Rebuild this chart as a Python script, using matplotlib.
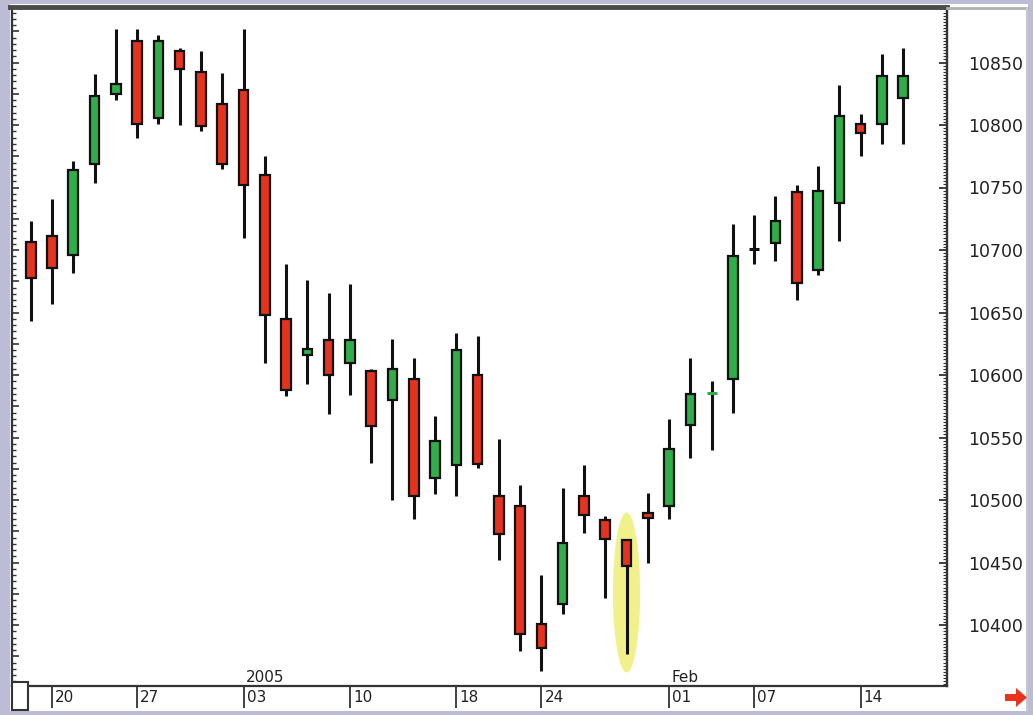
import matplotlib
matplotlib.use("Agg")
import matplotlib.pyplot as plt
from matplotlib.patches import Rectangle, Ellipse, Polygon
from matplotlib.ticker import MultipleLocator

# daily candles, 17 Dec 2004 .. 16 Feb 2005 (trading days only)
opens = [10706, 10711, 10696, 10769, 10825, 10867, 10806, 10859, 10842, 10817,
         10828, 10760, 10645, 10616, 10628, 10610, 10603, 10580, 10597, 10518,
         10528, 10600, 10503, 10495, 10401, 10417, 10503, 10484, 10468, 10490,
         10495, 10560, 10585.5, 10597, 10701, 10706, 10746, 10684, 10738, 10801,
         10801, 10822]
highs = [10723, 10741, 10771, 10841, 10877, 10877, 10872, 10862, 10859, 10842,
         10877, 10775, 10689, 10676, 10666, 10673, 10605, 10629, 10614, 10567,
         10634, 10631, 10549, 10512, 10440, 10510, 10528, 10487, 10469, 10506,
         10565, 10614, 10595, 10721, 10728, 10743, 10752, 10767, 10832, 10809,
         10857, 10862]
lows = [10643, 10657, 10682, 10754, 10820, 10790, 10801, 10800, 10795, 10765,
        10710, 10610, 10583, 10593, 10569, 10584, 10530, 10500, 10485, 10505,
        10503, 10526, 10452, 10379, 10363, 10409, 10474, 10422, 10377, 10450,
        10485, 10534, 10540, 10570, 10689, 10691, 10660, 10680, 10707, 10775,
        10785, 10785]
closes = [10678, 10686, 10764, 10823, 10833, 10801, 10867, 10845, 10799, 10769,
          10752, 10648, 10588, 10621, 10600, 10628, 10559, 10605, 10503, 10547,
          10620, 10529, 10473, 10393, 10382, 10466, 10488, 10469, 10447, 10486,
          10541, 10585, 10586, 10695, 10701, 10723, 10674, 10747, 10807, 10794,
          10839, 10839]

date_ticks = [1, 5, 10, 15, 20, 24, 30, 34, 39]
date_labels = ["20", "27", "03", "10", "18", "24", "01", "07", "14"]
period_ticks = [10, 30]
period_labels = ["2005", "Feb"]
hammer_idx = 28

W, H = 1033, 715
UP = "#2fae4a"
DOWN = "#e5331f"
FRAME = "#bcbcd6"


def fx(x):
    return x / W


def fy(y):
    return 1 - y / H


fig = plt.figure(figsize=(W / 100, H / 100), dpi=100, facecolor=FRAME)

# window background and frame lines
fig.patches.append(Rectangle((fx(10), fy(711)), fx(1018), (711 - 4) / H,
                             transform=fig.transFigure, facecolor="white",
                             edgecolor="none", zorder=-10))
fig.add_artist(plt.Line2D([fx(10), fx(947)], [fy(6.5), fy(6.5)],
                          transform=fig.transFigure, color="#4a4a4a", lw=3.5))
fig.add_artist(plt.Line2D([fx(947), fx(1027)], [fy(8), fy(8)],
                          transform=fig.transFigure, color="#b0b0b0", lw=2))
fig.add_artist(plt.Line2D([fx(1027), fx(1027)], [fy(8), fy(711)],
                          transform=fig.transFigure, color="#c8c8c8", lw=1.5))

ax = fig.add_axes([fx(12), fy(686), (947 - 12) / W, (686 - 9) / H])
ax.set_facecolor("white")
ax.set_xlim(-0.88, 43.06)
ax.set_ylim(10351.2, 10892.8)

# highlight around the hammer candle
lo, hi = lows[hammer_idx], highs[hammer_idx]
ax.add_patch(Ellipse((hammer_idx, (lo + hi) / 2 + 3), 1.28, (hi - lo) + 36,
                     facecolor="#eeee6e", edgecolor="none", alpha=0.8, zorder=1))

for i, (o, h, l, c) in enumerate(zip(opens, highs, lows, closes)):
    ax.vlines(i, l, h, color="#111111", lw=2.2, zorder=2)
    if c > o:
        col = UP
    elif c < o:
        col = DOWN
    else:
        col = "#111111"
    if abs(c - o) < 1.5:
        ax.hlines((o + c) / 2, i - 0.24, i + 0.24, color=col, lw=2.2, zorder=3)
    else:
        ax.bar(i, abs(c - o), bottom=min(o, c), width=0.45, color=col,
               edgecolor="#111111", linewidth=1.6, zorder=3)

ax.spines["top"].set_visible(False)
for side in ["left", "right", "bottom"]:
    ax.spines[side].set_color("#333333")
    ax.spines[side].set_linewidth(1.6)

# left spine: dense inward ticks
ax.yaxis.set_major_locator(MultipleLocator(25))
ax.yaxis.set_minor_locator(MultipleLocator(5))
ax.tick_params(axis="y", which="major", direction="in", length=5, width=1.2,
               colors="#333333", left=True, right=False, labelleft=False)
ax.tick_params(axis="y", which="minor", direction="in", length=3, width=1,
               colors="#333333", left=True, right=False)

# right price scale
ax2 = ax.twinx()
ax2.set_ylim(ax.get_ylim())
for side in ["top", "left", "bottom"]:
    ax2.spines[side].set_visible(False)
ax2.spines["right"].set_color("#333333")
ax2.spines["right"].set_linewidth(1.6)
ax2.yaxis.set_major_locator(MultipleLocator(50))
ax2.yaxis.set_minor_locator(MultipleLocator(2.5))
ax2.tick_params(axis="y", which="major", direction="in", length=6, width=1.3,
                pad=15, labelsize=12.5, labelcolor="#222222", colors="#333333")
ax2.tick_params(axis="y", which="minor", direction="in", length=3, width=0.8,
                colors="#333333")

# date axis
ax.set_xticks(date_ticks)
ax.set_xticklabels([])
ax.tick_params(axis="x", which="major", direction="out", length=16, width=1.3,
               colors="#333333")
for t, lab in zip(date_ticks, date_labels):
    ax.annotate(lab, xy=(t, 0), xycoords=("data", "axes fraction"),
                xytext=(3, -11), textcoords="offset pixels",
                ha="left", va="center", fontsize=11, color="#222222")
for t, lab in zip(period_ticks, period_labels):
    ax.annotate(lab, xy=(t, 0), xycoords=("data", "axes fraction"),
                xytext=(2, 9), textcoords="offset pixels",
                ha="left", va="center", fontsize=11, color="#222222")

# corner box and scroll arrow
fig.patches.append(Rectangle((fx(12), fy(710)), 16 / W, 28 / H,
                             transform=fig.transFigure, facecolor="white",
                             edgecolor="#333333", lw=1.5, zorder=5))
arrow = [(1005, 694), (1016, 694), (1016, 688), (1027, 697.5),
         (1016, 707), (1016, 701), (1005, 701)]
fig.patches.append(Polygon([(fx(x), fy(y)) for x, y in arrow],
                           transform=fig.transFigure, facecolor="#e8341c",
                           edgecolor="none", zorder=5))

fig.savefig("out.png", dpi=100, facecolor=FRAME)
